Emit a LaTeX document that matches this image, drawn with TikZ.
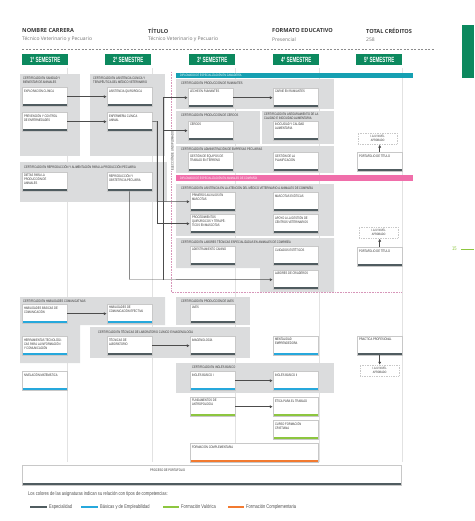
\documentclass[tikz,border=0pt]{standalone}
\usepackage{fontspec}
\setmainfont{Liberation Sans}
\newfontfamily\cond{Liberation Sans}[FakeStretch=0.75]
\newfontfamily\semf{Liberation Sans}[FakeStretch=0.6]
\newfontfamily\hdr{Open Sans}
\usetikzlibrary{arrows.meta}
\definecolor{semgreen}{RGB}{12,137,94}
\definecolor{dk}{RGB}{80,92,96}
\definecolor{bl}{RGB}{38,168,220}
\definecolor{gr}{RGB}{141,198,63}
\definecolor{orn}{RGB}{242,122,48}
\definecolor{area}{RGB}{219,220,221}
\definecolor{boxline}{RGB}{200,200,200}
\definecolor{guide}{RGB}{226,226,226}
\definecolor{txt}{RGB}{45,45,45}
\definecolor{dipb}{RGB}{22,160,178}
\definecolor{dipp}{RGB}{240,110,170}
\definecolor{dotc}{RGB}{215,150,185}
\tikzset{
 subj/.style={draw=boxline, line width=0.4pt, fill=white, minimum width=45pt, minimum height=19pt, inner sep=0pt, anchor=north west,
   path picture={\fill[#1] ([yshift=1.8pt]path picture bounding box.south west) rectangle (path picture bounding box.south east);}},
 subj/.default=dk,
 stxt/.style={anchor=north west, inner sep=0pt, align=left, font=\cond\fontsize{3.5}{4.2}\selectfont, text=txt},
 clbl/.style={anchor=north west, inner sep=0pt, align=left, font=\cond\fontsize{3.5}{4.2}\selectfont, text=txt},
 sem/.style={fill=semgreen, text=white, font=\semf\bfseries\fontsize{7.5}{8}\selectfont, minimum width=46pt, minimum height=11pt, inner sep=0pt, anchor=north west},
 iabox/.style={draw=boxline, dash pattern=on 1pt off 0.7pt, fill=white, minimum width=39pt, minimum height=11pt, inner sep=0pt, align=center, font=\cond\fontsize{3.2}{3.9}\selectfont, text=txt, anchor=north west},
 arr/.style={draw=black!70, line width=0.45pt, -{Triangle[length=2.6pt,width=2.8pt]}, shorten >=0.6pt},
 dip/.style={anchor=west, inner sep=0pt, font=\cond\fontsize{3.3}{3.6}\selectfont, text=white},
 hb/.style={anchor=west, inner sep=0pt, font=\hdr\bfseries\fontsize{5.6}{6}\selectfont, text=black!78},
 hr/.style={anchor=west, inner sep=0pt, font=\hdr\fontsize{5}{6}\selectfont, text=black!55},
 lg/.style={anchor=west, inner sep=0pt, font=\cond\fontsize{5.4}{6}\selectfont, text=black!70},
}
\newcommand\sbj[5][dk]{\node[subj=#1] (#2) at (#3,#4) {};
  \node[stxt] (#2t) at ([xshift=1.8pt,yshift=-1.8pt]#2.north west) {#5};}
\begin{document}
\begin{tikzpicture}[x=1pt,y=-1pt]
\useasboundingbox (0,0) rectangle (474,521);
% header
\node[hb] (h1) at (22,31) {NOMBRE CARRERA};
\node[hr] (h1v) at (22,39.5) {Técnico Veterinario y Pecuario};
\node[hb] (h2) at (148,31) {TÍTULO};
\node[hr] (h2v) at (148,39.5) {Técnico Veterinario y Pecuario};
\node[hb] (h3) at (272,31) {FORMATO EDUCATIVO};
\node[hr] (h3v) at (272,39.5) {Presencial};
\node[hb] (h4) at (366,31) {TOTAL CRÉDITOS};
\node[hr] (h4v) at (366,39.5) {258};
\draw[black!45, line width=0.5pt, dash pattern=on 2pt off 1.5pt] (22,49) -- (435,49);
\fill[semgreen] (462,25) rectangle (474,78);
% semesters
\node[sem] (s1) at (22,54) {1º SEMESTRE};
\node[sem] (s2) at (105,54) {2º SEMESTRE};
\node[sem] (s3) at (189,54) {3º SEMESTRE};
\node[sem] (s4) at (273,54) {4º SEMESTRE};
\node[sem] (s5) at (356,54) {5º SEMESTRE};
% column guides
\foreach \gx in {67,152,235,319,402} \draw[guide, line width=0.6pt] (\gx,68) -- (\gx,462);
% certificate areas
\fill[area] (20,74) rectangle (80,156);
\fill[area] (90,74) rectangle (165,156);
\fill[area] (20,162) rectangle (167,202);
\fill[area] (176,79) rectangle (334,109);
\fill[area] (176,111) rectangle (260,144);
\fill[area] (262,111) rectangle (334,144);
\fill[area] (176,146) rectangle (334,173);
\fill[area] (176,184) rectangle (334,236);
\fill[area] (176,238) -- (334,238) -- (334,292) -- (260,292) -- (260,268) -- (176,268) -- cycle;
\fill[area] (20,297) -- (165,297) -- (165,325) -- (80,325) -- (80,363) -- (20,363) -- cycle;
\fill[area] (90,327) rectangle (250,358);
\fill[area] (176,297) rectangle (250,325);
\fill[area] (176,363) rectangle (334,393);
% diploma bars
\fill[dipb] (176,73) rectangle (413,78);
\node[dip] (d1) at (180,75.5) {DIPLOMADO DE ESPECIALIZACIÓN EN GANADERÍA};
\fill[dipp] (176,175) rectangle (413,181);
\node[dip] (d2) at (180,178) {DIPLOMADO DE ESPECIALIZACIÓN EN ANIMALES DE COMPAÑÍA};
% election dotted line
\draw[dotc, line width=0.7pt, dash pattern=on 0.6pt off 1pt] (171,72) -- (171,292) -- (402,292);
\node[clbl, anchor=center, rotate=90, fill=white, inner sep=0.8pt] (elec) at (172,151) {ELECCIÓN DE UN DIPLOMADO};
% certificate labels
\node[clbl] (cl1) at (23,76.5) {CERTIFICADO EN SANIDAD Y\\BIENESTAR DE ANIMALES};
\node[clbl] (cl2) at (93,76.5) {CERTIFICADO EN ASISTENCIA CLÍNICA Y\\TERAPÉUTICA DEL MÉDICO VETERINARIO};
\node[clbl] (cl3) at (24,165.5) {CERTIFICADO EN REPRODUCCIÓN Y ALIMENTACIÓN PARA LA PRODUCCIÓN PECUARIA};
\node[clbl] (cl4) at (181,81.5) {CERTIFICADO EN PRODUCCIÓN DE RUMIANTES};
\node[clbl] (cl5) at (181,113) {CERTIFICADO EN PRODUCCIÓN DE CERDOS};
\node[clbl] (cl6) at (264,113) {CERTIFICADO EN ASEGURAMIENTO DE LA\\CALIDAD E INOCUIDAD ALIMENTARIA};
\node[clbl] (cl7) at (181,147.5) {CERTIFICADO EN ADMINISTRACIÓN DE EMPRESAS PECUARIAS};
\node[clbl] (cl8) at (181,186) {CERTIFICADO EN ASISTENCIA EN LA ATENCIÓN DEL MÉDICO VETERINARIO A ANIMALES DE COMPAÑÍA};
\node[clbl] (cl9) at (181,240) {CERTIFICADO EN LABORES TÉCNICAS ESPECIALIZADAS EN ANIMALES DE COMPAÑÍA};
\node[clbl] (cl10) at (23,299.5) {CERTIFICADO EN HABILIDADES COMUNICATIVAS};
\node[clbl] (cl11) at (98,330) {CERTIFICADO EN TÉCNICAS DE LABORATORIO CLÍNICO E IMAGENOLOGÍA};
\node[clbl] (cl12) at (181,299.5) {CERTIFICADO EN PRODUCCIÓN DE AVES};
\node[clbl] (cl13) at (192,365.5) {CERTIFICADO EN INGLÉS BÁSICO};
% subjects
\sbj{explor}{22}{87}{EXPLORACIÓN CLÍNICA}
\sbj{prev}{22}{112}{PREVENCIÓN Y CONTROL\\DE ENFERMEDADES}
\sbj{asist}{107}{87}{ASISTENCIA QUIRÚRGICA}
\sbj{enferm}{107}{112}{ENFERMERÍA CLÍNICA\\ANIMAL}
\sbj{dietas}{22}{172}{DIETAS PARA LA\\PRODUCCIÓN DE\\ANIMALES}
\sbj{reprod}{107}{172}{REPRODUCCIÓN Y\\OBSTETRICIA PECUARIA}
\sbj{leche}{188}{88}{LECHE EN RUMIANTES}
\sbj{carne}{273}{88}{CARNE EN RUMIANTES}
\sbj{cerdos}{188}{121}{CERDOS}
\sbj{inocu}{273}{121}{INOCUIDAD Y CALIDAD\\ALIMENTARIA}
\sbj{gesteq}{188}{152}{GESTIÓN DE EQUIPOS DE\\TRABAJO EN TERRENO}
\sbj{gestpl}{273}{152}{GESTIÓN DE LA\\PLANIFICACIÓN}
\sbj{primeros}{190}{192}{PRIMEROS AUXILIOS EN\\MASCOTAS}
\sbj{exot}{273}{192}{MASCOTAS EXÓTICAS}
\sbj{proced}{190}{214}{PROCEDIMIENTOS\\QUIRÚRGICOS Y TERAPÉ-\\TICOS EN MASCOTAS}
\sbj{apoyo}{273}{214}{APOYO A LA GESTIÓN DE\\CENTROS VETERINARIOS}
\sbj{adiest}{190}{246}{ADIESTRAMIENTO CANINO}
\sbj{cuid}{273}{246}{CUIDADOS ESTÉTICOS}
\sbj{labores}{273}{270}{LABORES DE CRIADEROS}
\sbj{port1}{357}{152}{PORTAFOLIO DE TÍTULO}
\sbj{port2}{357}{247}{PORTAFOLIO DE TÍTULO}
\sbj[bl]{habbas}{22}{304}{HABILIDADES BÁSICAS DE\\COMUNICACIÓN}
\sbj[bl]{habef}{107}{304}{HABILIDADES DE\\COMUNICACIÓN EFECTIVA}
\sbj[bl]{herr}{22}{336}{HERRAMIENTAS TECNOLÓGI-\\CAS PARA LA INFORMACIÓN\\Y COMUNICACIÓN}
\sbj[bl]{nivel}{22}{371}{NIVELACIÓN MATEMÁTICA}
\sbj{teclab}{107}{336}{TÉCNICAS DE\\LABORATORIO}
\sbj{imagen}{190}{336}{IMAGENOLOGÍA}
\sbj{aves}{190}{304}{AVES}
\sbj[bl]{mental}{273}{336}{MENTALIDAD\\EMPRENDEDORA}
\sbj[bl]{ing1}{190}{371}{INGLÉS BÁSICO I}
\sbj[bl]{ing2}{273}{371}{INGLÉS BÁSICO II}
\sbj[gr]{antrop}{190}{397}{FUNDAMENTOS DE\\ANTROPOLOGÍA}
\sbj[gr]{etica}{273}{397}{ÉTICA PARA EL TRABAJO}
\sbj[gr]{crist}{273}{420}{CURSO FORMACIÓN\\CRISTIANA}
\sbj{practica}{357}{336}{PRACTICA PROFESIONAL}
\node[subj=orn, minimum width=128pt] (formc) at (190,443) {};
\node[stxt] (formct) at ([xshift=1.8pt,yshift=-1.8pt]formc.north west) {FORMACIÓN COMPLEMENTARIA};
\node[subj=dk, minimum width=379pt, minimum height=20pt] (proc) at (22,465) {};
\node[stxt] (proct) at (150,468.5) {PROCESO DE PORTAFOLIO};
\node[iabox] (ia1) at (358,133) {I.A.IV. NIVEL\\APROBADO};
\node[iabox] (ia2) at (359,227) {I.A.IV. NIVEL\\APROBADO};
\node[iabox] (ia3) at (360,365) {I.A.IV. NIVEL\\APROBADO};
% connectors
\draw[arr] (explor.east) -- (asist.west);
\draw[arr] (prev.east) -- (enferm.west);
\draw[arr] (leche.east) -- (carne.west);
\draw[arr] (habbas.east) -- (habef.west);
\draw[arr] (teclab.east) -- (imagen.west);
\draw[arr] (ing1.east) -- (ing2.west);
\draw[arr] (antrop.east) -- (etica.west);
\draw[arr] (port1.north) -- (port1.north |- ia1.south);
\draw[arr] (port2.north) -- (port2.north |- ia2.south);
\draw[arr] (practica.south) -- (practica.south |- ia3.north);
\coordinate (ej) at (157,121.5);
\draw[arr] (enferm.east) -- (ej) |- (primeros.west);
\draw[arr] (ej) |- (proced.west);
\coordinate (rj) at (163,279.5);
\draw[arr] (reprod.south) |- (rj) -- (labores.west);
\draw[arr] (rj) |- (leche.west);
\draw[arr] (rj) |- (cerdos.west);
% page mark
\node[lg, text=gr] (pg) at (452,249) {15};
\draw[gr, line width=0.6pt] (461,249) -- (474,249);
% legend
\node[lg] (lgt) at (28,494) {Los colores de las asignaturas indican su relación con tipos de competencias:};
\draw[dk, line width=1.4pt] (30,507) -- (47,507);
\node[lg] (lg1) at (49,507) {Especialidad};
\draw[bl, line width=1.4pt] (81,507) -- (98,507);
\node[lg] (lg2) at (100,507) {Básicas y de Empleabilidad};
\draw[gr, line width=1.4pt] (163,507) -- (179,507);
\node[lg] (lg3) at (181,507) {Formación Valórica};
\draw[orn, line width=1.4pt] (228,507) -- (244,507);
\node[lg] (lg4) at (246,507) {Formación Complementaria};
\end{tikzpicture}
\end{document}
